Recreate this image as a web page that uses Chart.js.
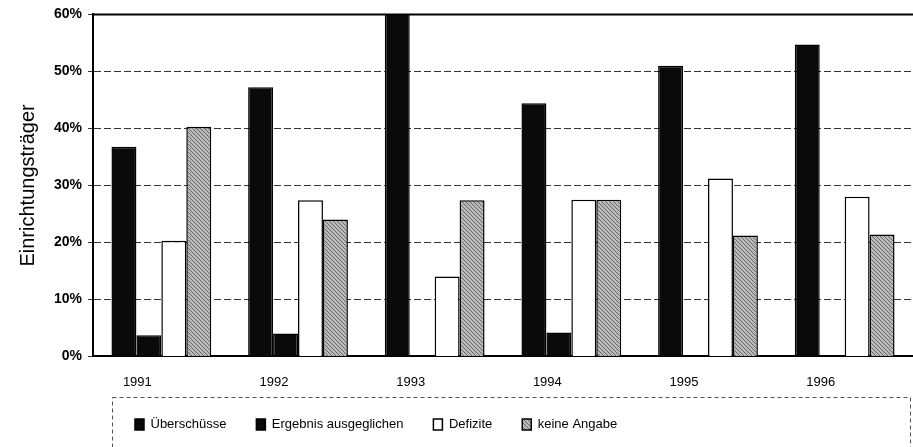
<!DOCTYPE html>
<html>
<head>
<meta charset="utf-8">
<script src="https://cdn.jsdelivr.net/npm/chart.js@4/dist/chart.umd.min.js"></script>
<style>
  html, body { margin: 0; padding: 0; background: #fff; }
  #wrap { width: 913px; height: 447px; }
</style>
</head>
<body>
<div id="wrap"><canvas id="chart"></canvas></div>
<script>
const years = ['1991', '1992', '1993', '1994', '1995', '1996'];
const ueberschuesse = [36.8, 47.2, 61, 44.4, 51, 54.7];
const ausgeglichen = [3.7, 4.0, 0, 4.2, 0, 0];
const defizite = [20.3, 27.4, 14.0, 27.5, 31.2, 28.0];
const keineAngabe = [40.3, 24.0, 27.4, 27.5, 21.2, 21.4];
const yTicks = [0, 10, 20, 30, 40, 50, 60];

const FONT = 'Liberation Sans, Arial, sans-serif';

// grey hatch like the scanned fill
function hatch() {
    const c = document.createElement('canvas');
    c.width = 4; c.height = 4;
    const g = c.getContext('2d');
    g.fillStyle = '#b8b8b8';
    g.fillRect(0, 0, 4, 4);
    g.fillStyle = '#6a6a6a';
    for (let i = 0; i < 4; i++) g.fillRect(i, i, 1, 1);
    return g.createPattern(c, 'repeat');
}

// legend: wide gaps but a short box, sits inside a dashed frame
const legendTweak = {
    id: 'legendTweak',
    beforeLayout(chart) {
        const lg = chart.legend;
        if (lg && !lg._patched) {
            const fit = lg.fit;
            lg.fit = function () { fit.call(this); this.height = 39; };
            lg._patched = true;
        }
    },
    afterLayout(chart) {
        chart.legend.top = 388;
        chart.legend.left = 105;
    },
    afterDraw(chart) {
        const ctx = chart.ctx;
        const a = chart.chartArea;
        ctx.save();
        // solid frame line on top of plot
        ctx.strokeStyle = '#000';
        ctx.lineWidth = 2;
        ctx.beginPath();
        ctx.moveTo(a.left, a.top);
        ctx.lineTo(a.right, a.top);
        ctx.stroke();
        // dashed legend frame
        ctx.strokeStyle = '#555';
        ctx.lineWidth = 1;
        ctx.setLineDash([4, 3]);
        ctx.strokeRect(112.5, 397.5, 798, 60);
        ctx.restore();
    }
};

function drawChart() {
    const ctx = document.getElementById('chart');
    const common = { borderColor: '#000', borderWidth: 1.5, barPercentage: 1.0, categoryPercentage: 0.73 };

    new Chart(ctx, {
        type: 'bar',
        data: {
            labels: years,
            datasets: [
                Object.assign({ label: 'Überschüsse', data: ueberschuesse, backgroundColor: '#0a0a0a' }, common),
                Object.assign({ label: 'Ergebnis ausgeglichen', data: ausgeglichen, backgroundColor: '#0a0a0a' }, common),
                Object.assign({ label: 'Defizite', data: defizite, backgroundColor: '#ffffff' }, common),
                Object.assign({ label: 'keine Angabe', data: keineAngabe, backgroundColor: hatch() }, common)
            ]
        },
        options: {
            responsive: true,
            maintainAspectRatio: false,
            animation: false,
            layout: { padding: { top: 3, right: 0, left: 16, bottom: 0 } },
            plugins: {
                tooltip: { enabled: false },
                legend: {
                    position: 'bottom',
                    align: 'start',
                    labels: {
                        color: '#000',
                        font: { family: FONT, size: 13 },
                        boxWidth: 9,
                        boxHeight: 11,
                        padding: 30
                    }
                }
            },
            scales: {
                x: {
                    grid: { display: false, drawTicks: false },
                    border: { color: '#000', width: 2 },
                    ticks: {
                        color: '#000',
                        padding: 18,
                        labelOffset: -24,
                        font: { family: FONT, size: 13 }
                    }
                },
                y: {
                    min: 0,
                    max: 60,
                    afterBuildTicks(axis) {
                        axis.ticks = yTicks.map(v => ({ value: v }));
                    },
                    grid: { color: '#333', lineWidth: 1, drawTicks: true, tickLength: 5 },
                    border: { color: '#000', width: 2, dash: [7, 3] },
                    ticks: {
                        color: '#000',
                        padding: 6,
                        font: { family: FONT, size: 14, weight: 'bold' },
                        callback: v => v + '%'
                    },
                    title: {
                        display: true,
                        text: 'Einrichtungsträger',
                        color: '#000',
                        padding: { top: 0, bottom: 8 },
                        font: { family: FONT, size: 20 }
                    }
                }
            }
        },
        plugins: [legendTweak]
    });
}

drawChart();
</script>
</body>
</html>
